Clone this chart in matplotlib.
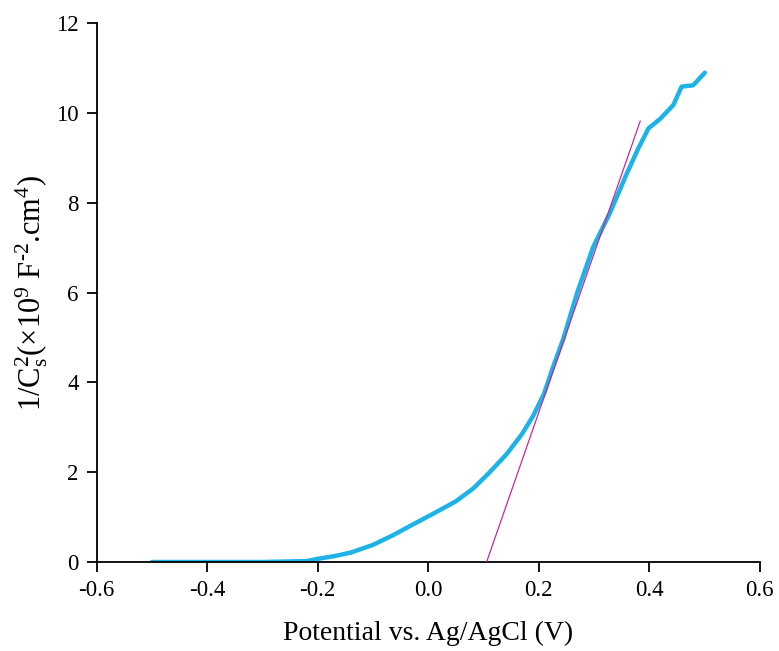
import numpy as np
import matplotlib
matplotlib.use("Agg")
import matplotlib.pyplot as plt

# Mott-Schottky data
potential = [-0.50, -0.40, -0.30, -0.22, -0.20, -0.17, -0.14, -0.10, -0.063, -0.03,
             0.01, 0.05, 0.082, 0.11, 0.142, 0.17, 0.19, 0.21, 0.225, 0.245,
             0.27, 0.299, 0.329, 0.36, 0.38, 0.399, 0.42, 0.444, 0.459, 0.48, 0.501]
inv_c2 = [0.0, 0.0, 0.0, 0.02, 0.07, 0.13, 0.21, 0.38, 0.6, 0.82,
          1.08, 1.35, 1.64, 1.98, 2.4, 2.85, 3.25, 3.75, 4.3, 4.98,
          6.0, 7.02, 7.77, 8.66, 9.2, 9.66, 9.87, 10.18, 10.59, 10.62, 10.9]

fit_x = [0.106, 0.384]
fit_y = [0.0, 9.82]

plt.rcParams['font.family'] = ['Liberation Serif', 'DejaVu Serif']
plt.rcParams['mathtext.fontset'] = 'custom'
plt.rcParams['mathtext.rm'] = 'Liberation Serif'
plt.rcParams['mathtext.it'] = 'Liberation Serif:italic'

fig = plt.figure(figsize=(7.79, 6.51), dpi=100)
ax = fig.add_axes([0.124, 0.1367, 0.851, 0.8275])

ax.plot(potential, inv_c2, color="#1DB3E6", lw=3.2, solid_capstyle="round",
        solid_joinstyle="round", zorder=2)
ax.plot(fit_x, fit_y, color="#C8289A", lw=0.9, zorder=3)

ax.set_xlim(-0.6, 0.6)
ax.set_ylim(0, 12)
ax.set_xticks(np.arange(-0.6, 0.61, 0.2))
ax.set_xticklabels(["-0.6", "-0.4", "-0.2", "0.0", "0.2", "0.4", "0.6"])
ax.set_yticks(range(0, 13, 2))
for s in ["top", "right"]:
    ax.spines[s].set_visible(False)
for s in ["left", "bottom"]:
    ax.spines[s].set_linewidth(1.3)
ax.tick_params(direction="out", length=7, width=1.3, labelsize=16.5, pad=6)

ax.set_xlabel("Potential vs. Ag/AgCl (V)", fontsize=20, labelpad=14)
ax.set_ylabel("1/C$_\\mathrm{s}^\\mathrm{2}$(×10$^\\mathrm{9}$ F$^\\mathrm{\u2010 2}$.cm$^\\mathrm{4}$)",
              fontsize=22, labelpad=4)

fig.savefig("out.png", dpi=100)
